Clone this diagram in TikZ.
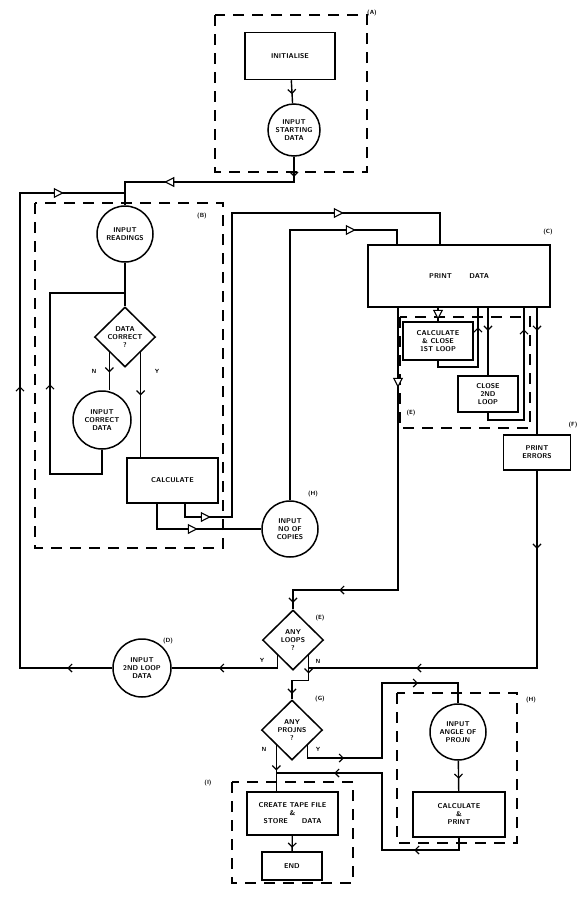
\documentclass[tikz,border=0pt]{standalone}
\usetikzlibrary{shapes.geometric,arrows.meta,decorations.markings}
\tikzset{
  box/.style={draw,line width=1.5pt,inner sep=0pt,align=center,font=\fontsize{7}{8}\selectfont\bfseries\sffamily},
  proc/.style={box,rectangle},
  io/.style={box,circle,minimum size=#1},
  dec/.style={box,diamond,minimum width=61pt,minimum height=60pt},
  grp/.style={line width=1.2pt,dash pattern=on 11pt off 8pt},
  lab/.style={font=\fontsize{6}{7}\selectfont\bfseries\sffamily},
  flow/.style={line width=1.4pt},
  arr/.style={postaction={decorate,decoration={markings,mark=at position #1 with {\arrow{Straight Barb[length=4pt,width=8pt,line width=1.2pt]}}}}},
  tri/.style={postaction={decorate,decoration={markings,mark=at position #1 with {\arrow{Triangle[fill=white,length=10pt,width=10pt,line width=1.1pt]}}}}},
}
\begin{document}
\begin{tikzpicture}[x=1pt,y=-1pt]
\useasboundingbox (0,0) rectangle (582,900);
% dashed groups
\draw[grp] (215,15) rectangle (367,172);
\draw[grp] (35,203) rectangle (223,548);
\draw[grp] (400,317) rectangle (530,428);
\draw[grp] (397,693) rectangle (517,843);
\draw[grp] (232,782) rectangle (353,883);
% blocks
\node[proc,minimum width=90pt,minimum height=47pt] (init) at (290,56) {INITIALISE};
\node[io=52pt] (instart) at (294,130) {INPUT\\STARTING\\DATA};
\node[io=56pt] (readings) at (125,234) {INPUT\\READINGS};
\node[dec] (datacor) at (125,337) {DATA\\CORRECT\\?};
\node[io=58pt] (corr) at (102,420) {INPUT\\CORRECT\\DATA};
\node[proc,minimum width=91pt,minimum height=45pt] (calc) at (172.5,480.5) {CALCULATE};
\node[io=56pt] (copies) at (290,529) {INPUT\\NO OF\\COPIES};
\node[proc,minimum width=182pt,minimum height=62pt] (print) at (459,276) {PRINT\hspace{2.5em}DATA};
\node[proc,minimum width=70pt,minimum height=38pt] (calc1) at (438,341) {CALCULATE\\\& CLOSE\\1ST LOOP};
\node[proc,minimum width=60pt,minimum height=36pt] (close2) at (488,394) {CLOSE\\2ND\\LOOP};
\node[proc,minimum width=67pt,minimum height=35pt] (errors) at (537,452.5) {PRINT\\ERRORS};
\node[dec] (loops) at (293,640) {ANY\\LOOPS\\?};
\node[io=58pt] (second) at (142,668) {INPUT\\2ND LOOP\\DATA};
\node[dec] (projns) at (292,730) {ANY\\PROJNS\\?};
\node[io=56pt] (angle) at (458,732) {INPUT\\ANGLE OF\\PROJN};
\node[proc,minimum width=92pt,minimum height=45pt] (calcpr) at (459,814.5) {CALCULATE\\\&\\PRINT};
\node[proc,minimum width=91pt,minimum height=43pt] (tape) at (292.5,813.5) {CREATE TAPE FILE\\\&\\STORE\hspace{2em}DATA};
\node[proc,minimum width=60pt,minimum height=28pt] (endbox) at (292,866) {END};
% bends
\coordinate (c1) at (185,517);
\coordinate (c2) at (232,213);
\coordinate (c3) at (440,213);
\coordinate (c4) at (157,529);
\coordinate (c5) at (397,230);
\coordinate (c6) at (294,182);
\coordinate (c7) at (20,668);
\coordinate (c8) at (20,193);
\coordinate (c9) at (125,193);
\coordinate (c10) at (50,474);
\coordinate (c11) at (50,293);
\coordinate (c12) at (478,367);
\coordinate (c13) at (524,420);
\coordinate (c14) at (382,758);
\coordinate (c15) at (382,683);
\coordinate (c16) at (382,850);
\coordinate (c17) at (382,773);
\coordinate (pa) at (398,590);
\coordinate (jn) at (308,668);
% connectors
\draw[flow,arr=14pt] (init) -- (instart);
\draw[flow,arr=20pt,tri=155pt] (instart.south) -- (c6) -| (readings.north);
\draw[flow,arr=45pt,arr=374pt,tri=611pt] (second.west) -- (c7) -- (c8) -- (c9);
\draw[flow] (readings) -- (datacor);
\draw[flow,arr=20pt] (datacor.south west) -- (datacor.south west |- corr.north);
\draw[flow,arr=166pt] (corr.south) |- (c10) -- (c11) -- (c11 -| readings.south);
\draw[flow,arr=43pt] (datacor.south east) -- (datacor.south east |- calc.north);
\draw[flow,tri=39pt,tri=476pt] (c1 |- calc.south) -- (c1) -| (c2) -- (c3) -- (c3 |- print.north);
\draw[flow,tri=66pt] (c4 |- calc.south) -- (c4) -- (copies.west);
\draw[flow,tri=336pt] (copies.north) |- (c5) -- (c5 |- print.north);
\draw[flow,tri=80pt,arr=341pt,arr=400pt] (pa |- print.south) -- (pa) -| (loops.north);
\draw[flow,tri=12pt] (calc1.north |- print.south) -- (calc1.north);
\draw[flow,arr=86pt] (calc1.south) |- (c12) -- (c12 |- print.south);
\draw[flow,arr=23pt] (close2.north |- print.south) -- (close2.north);
\draw[flow,arr=134pt] (close2.south) |- (c13) -- (c13 |- print.south);
\draw[flow,arr=23pt] (errors.north |- print.south) -- (errors.north);
\draw[flow,arr=78pt,arr=318pt] (errors.south) |- (jn);
\draw[flow,arr=71pt] (loops.south west) |- (second.east);
\draw[flow,arr=18pt,arr=55pt] (loops.south east) -- ++(0,25) -| (projns.north);
\draw[flow,arr=25pt] (projns.south west) -- (projns.south west |- tape.north);
\draw[flow,arr=49pt,arr=198pt] (projns.south east) |- (c14) -- (c15) -| (angle.north);
\draw[flow,arr=18pt] (angle) -- (calcpr);
\draw[flow,arr=57pt,arr=214pt] (calcpr.south) |- (c16) -- (c17) -- (c17 -| projns.south west);
\draw[flow,arr=12pt] (tape) -- (endbox);
% labels
\node[lab] (labA) at (372,13) {(A)};
\node[lab] (labB) at (202,216) {(B)};
\node[lab] (labC) at (548,232) {(C)};
\node[lab] (labH1) at (313,494) {(H)};
\node[lab] (labE1) at (411,413) {(E)};
\node[lab] (labF) at (573,425) {(F)};
\node[lab] (labE2) at (320,618) {(E)};
\node[lab] (labD) at (168,641) {(D)};
\node[lab] (labG) at (320,699) {(G)};
\node[lab] (labH2) at (531,700) {(H)};
\node[lab] (labI) at (208,783) {(I)};
\node[lab] (n1) at (94,371) {N};
\node[lab] (y1) at (157,371) {Y};
\node[lab] (y2) at (262,660) {Y};
\node[lab] (n2) at (318,661) {N};
\node[lab] (n3) at (264,749) {N};
\node[lab] (y3) at (318,749) {Y};
\end{tikzpicture}
\end{document}
